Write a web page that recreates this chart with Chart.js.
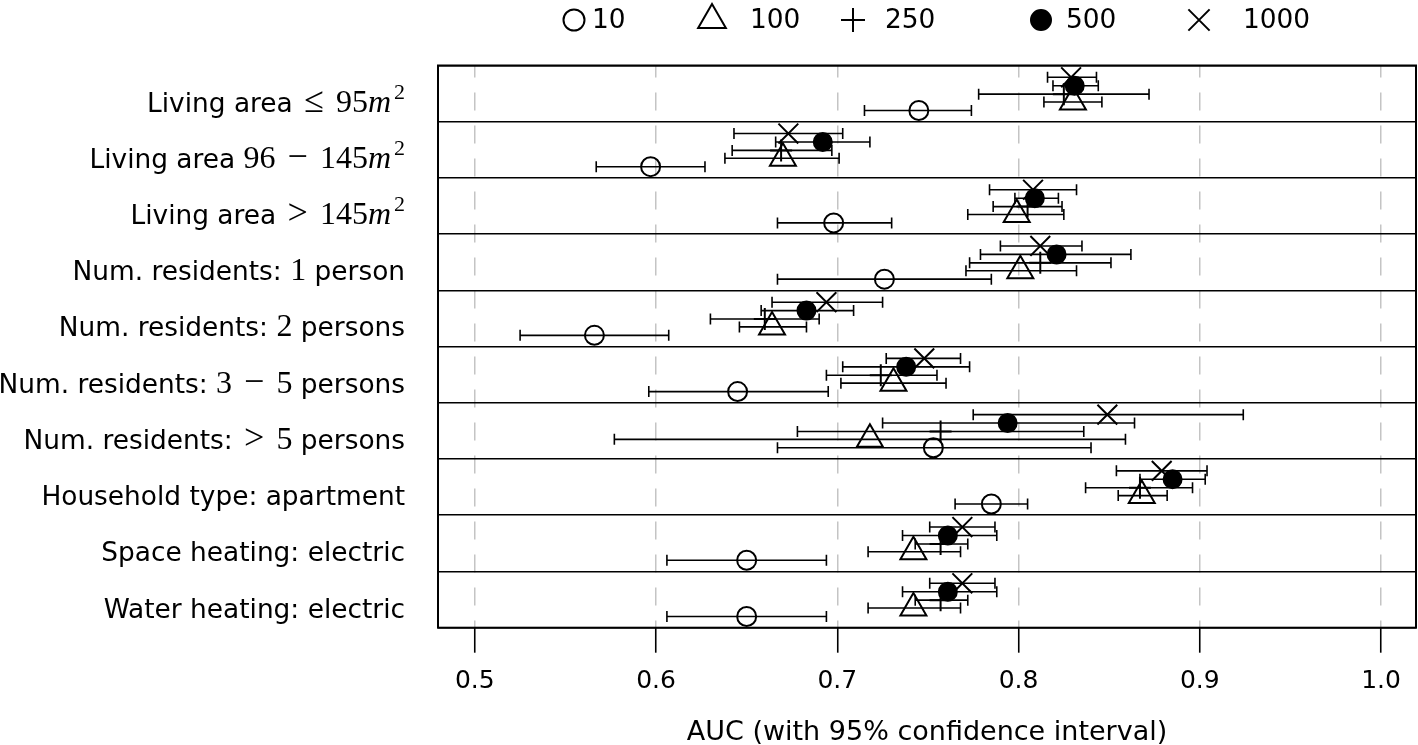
<!DOCTYPE html>
<html>
<head>
<meta charset="utf-8">
<title>AUC by household characteristic</title>
<script src="https://cdn.jsdelivr.net/npm/chart.js@4.4.0/dist/chart.umd.min.js"></script>
<style>
  html, body { margin: 0; padding: 0; background: #fff; }
  #wrap { width: 1418px; height: 745px; }
</style>
</head>
<body>
<div id="wrap"><canvas id="aucChart" width="1418" height="745"></canvas></div>
<script>
// Categories, top to bottom ($...$ parts are set as math)
const categories = [
  'Living area $≤95m^2$',
  'Living area $96−145m^2$',
  'Living area $>145m^2$',
  'Num. residents: $1$ person',
  'Num. residents: $2$ persons',
  'Num. residents: $3−5$ persons',
  'Num. residents: $>5$ persons',
  'Household type: apartment',
  'Space heating: electric',
  'Water heating: electric'
];

const seriesNames = ['10', '100', '250', '500', '1000'];
const xTicks = [0.5, 0.6, 0.7, 0.8, 0.9, 1.0];

// AUC and 95% confidence interval per training size
const auc10 = [0.745, 0.597, 0.698, 0.726, 0.566, 0.645, 0.753, 0.785, 0.650, 0.650];
const lo10  = [0.715, 0.567, 0.667, 0.667, 0.525, 0.596, 0.667, 0.765, 0.606, 0.606];
const hi10  = [0.774, 0.627, 0.730, 0.785, 0.607, 0.695, 0.840, 0.805, 0.694, 0.694];

const auc100 = [0.830, 0.670, 0.799, 0.801, 0.664, 0.731, 0.718, 0.868, 0.742, 0.742];
const lo100  = [0.814, 0.638, 0.772, 0.771, 0.646, 0.702, 0.577, 0.855, 0.717, 0.717];
const hi100  = [0.846, 0.701, 0.825, 0.832, 0.683, 0.760, 0.859, 0.882, 0.768, 0.768];

const auc250 = [0.825, 0.669, 0.805, 0.812, 0.660, 0.724, 0.757, 0.867, 0.757, 0.757];
const lo250  = [0.778, 0.642, 0.786, 0.773, 0.630, 0.694, 0.678, 0.837, 0.743, 0.743];
const hi250  = [0.872, 0.697, 0.824, 0.851, 0.690, 0.755, 0.836, 0.896, 0.772, 0.772];

const auc500 = [0.831, 0.692, 0.809, 0.821, 0.683, 0.738, 0.794, 0.885, 0.761, 0.761];
const lo500  = [0.819, 0.666, 0.798, 0.779, 0.658, 0.703, 0.725, 0.867, 0.736, 0.736];
const hi500  = [0.844, 0.718, 0.822, 0.862, 0.709, 0.773, 0.864, 0.903, 0.788, 0.788];

const auc1000 = [0.829, 0.673, 0.808, 0.812, 0.694, 0.748, 0.849, 0.879, 0.769, 0.769];
const lo1000  = [0.816, 0.643, 0.784, 0.790, 0.664, 0.727, 0.775, 0.854, 0.751, 0.751];
const hi1000  = [0.843, 0.703, 0.832, 0.835, 0.725, 0.768, 0.924, 0.904, 0.787, 0.787];

// Series look: marker, vertical shift inside a row, legend spot
const series = [
  { auc: auc10,   lo: lo10,   hi: hi10,   shift: 0.30,  style: 'circle',   radius: 9.5, legendRadius: 10.5, fill: 'rgba(0,0,0,0)', lx: 574,  tx: 592 },
  { auc: auc100,  lo: lo100,  hi: hi100,  shift: 0.15,  style: 'triangle', radius: 15,  legendRadius: 16,   fill: 'rgba(0,0,0,0)', lx: 712,  tx: 750 },
  { auc: auc250,  lo: lo250,  hi: hi250,  shift: 0.01,  style: 'cross',    radius: 11,  legendRadius: 12,   fill: 'rgba(0,0,0,0)', lx: 853,  tx: 885 },
  { auc: auc500,  lo: lo500,  hi: hi500,  shift: -0.14, style: 'circle',   radius: 9,   legendRadius: 10,   fill: '#000',          lx: 1041, tx: 1066 },
  { auc: auc1000, lo: lo1000, hi: hi1000, shift: -0.29, style: 'crossRot', radius: 14,  legendRadius: 15,   fill: 'rgba(0,0,0,0)', lx: 1199, tx: 1243 }
];

const sansFont = '26.4px "DejaVu Sans"';
const mathSize = 32;

// Error bars with caps
const errorBars = {
  id: 'errorBars',
  afterDatasetsDraw(chart) {
    const { ctx, scales: { x, y } } = chart;
    ctx.save();
    ctx.strokeStyle = '#000';
    ctx.lineWidth = 1.6;
    series.forEach(s => {
      s.lo.forEach((lo, i) => {
        const py = y.getPixelForValue(i + 1 + s.shift);
        const x1 = x.getPixelForValue(lo);
        const x2 = x.getPixelForValue(s.hi[i]);
        ctx.beginPath();
        ctx.moveTo(x1, py); ctx.lineTo(x2, py);
        ctx.moveTo(x1, py - 5.5); ctx.lineTo(x1, py + 5.5);
        ctx.moveTo(x2, py - 5.5); ctx.lineTo(x2, py + 5.5);
        ctx.stroke();
      });
    });
    ctx.restore();
  }
};

// Row labels with math parts in a serif face
function drawLabel(ctx, text, xRight, baseline) {
  const runs = [];
  text.split('$').forEach((part, j) => {
    if (j % 2 === 0) {
      if (part) runs.push({ t: part, font: sansFont, dy: 0, before: 0, after: 0 });
      return;
    }
    for (let c = 0; c < part.length; c++) {
      const ch = part[c];
      if (ch === '^') {
        runs.push({ t: part[++c], font: Math.round(mathSize * 0.7) + 'px "Liberation Serif"', dy: -13, before: 0, after: 0 });
      } else if (/[a-z]/i.test(ch)) {
        runs.push({ t: ch, font: 'italic ' + mathSize + 'px "Liberation Serif"', dy: 0, before: 0, after: 3 });
      } else if ('≤>−'.includes(ch)) {
        // operators get space on both sides, little at the start of the formula
        runs.push({ t: ch, font: (mathSize + 4) + 'px "Liberation Serif"', dy: 0, before: c > 0 ? 12 : 3, after: 12 });
      } else {
        runs.push({ t: ch, font: mathSize + 'px "Liberation Serif"', dy: 0, before: 0, after: 0 });
      }
    }
  });
  let total = 0;
  runs.forEach(r => {
    ctx.font = r.font;
    r.w = ctx.measureText(r.t).width;
    total += r.w + r.before + r.after;
  });
  let cx = xRight - total;
  runs.forEach(r => {
    ctx.font = r.font;
    cx += r.before;
    ctx.fillText(r.t, cx, baseline + r.dy);
    cx += r.w + r.after;
  });
}

const rowLabels = {
  id: 'rowLabels',
  afterDraw(chart) {
    const { ctx, chartArea, scales: { y } } = chart;
    ctx.save();
    ctx.fillStyle = '#000';
    ctx.textAlign = 'left';
    ctx.textBaseline = 'alphabetic';
    categories.forEach((c, i) => {
      drawLabel(ctx, c, chartArea.left - 33, y.getPixelForValue(i + 1.15) + 9.5);
    });
    ctx.restore();
  }
};

// Legend across the top
const topLegend = {
  id: 'topLegend',
  afterDraw(chart) {
    const ctx = chart.ctx;
    const cy = 20;
    ctx.save();
    ctx.strokeStyle = '#000';
    ctx.fillStyle = '#000';
    ctx.font = sansFont;
    ctx.textBaseline = 'middle';
    series.forEach((s, k) => {
      ctx.save();
      ctx.lineWidth = 2;
      ctx.fillStyle = s.fill;
      Chart.helpers.drawPoint(ctx, { pointStyle: s.style, radius: s.legendRadius, rotation: 0, borderWidth: 2 }, s.lx, cy);
      ctx.restore();
      ctx.fillText(seriesNames[k], s.tx, cy + 1);
    });
    ctx.restore();
  }
};

// Plot frame
const frame = {
  id: 'frame',
  afterDraw(chart) {
    const { ctx, chartArea: a } = chart;
    ctx.save();
    ctx.strokeStyle = '#000';
    ctx.lineWidth = 2;
    ctx.strokeRect(a.left, a.top, a.right - a.left, a.bottom - a.top);
    ctx.restore();
  }
};

const datasets = series.map((s, k) => ({
  label: seriesNames[k],
  data: s.auc.map((v, i) => ({ x: v, y: i + 1 + s.shift })),
  pointStyle: s.style,
  pointRadius: s.radius,
  pointBorderWidth: 2,
  pointBorderColor: '#000',
  pointBackgroundColor: s.fill,
  showLine: false
}));

// tick labels must not push the plot edges inward
const noPadding = () => ({ left: 0, top: 0, right: 0, bottom: 0 });

const ctx = document.getElementById('aucChart').getContext('2d');
new Chart(ctx, {
  type: 'scatter',
  data: { datasets },
  options: {
    responsive: false,
    animation: false,
    events: [],
    layout: { autoPadding: false, padding: { top: 65.5, right: 2, left: 0, bottom: 0 } },
    plugins: { legend: { display: false }, tooltip: { enabled: false } },
    scales: {
      x: {
        type: 'linear',
        min: 0.4797,
        max: 1.0193,
        afterBuildTicks: scale => { scale.ticks = xTicks.map(v => ({ value: v })); },
        afterFit: scale => {
          scale.height = 117.3;
          scale.getPadding = noPadding;
        },
        ticks: {
          color: '#000',
          font: { family: 'DejaVu Sans', size: 25 },
          padding: 14,
          maxRotation: 0,
          autoSkip: false,
          callback: v => Number(v).toFixed(1)
        },
        grid: {
          color: '#c4c4c4',
          lineWidth: 1.5,
          tickColor: '#000',
          tickLength: 25,
          tickWidth: 1.6,
          tickBorderDash: []
        },
        border: { display: false, dash: [18, 15], dashOffset: 6 },
        title: {
          display: true,
          text: 'AUC (with 95% confidence interval)',
          color: '#000',
          font: { family: 'DejaVu Sans', size: 27, lineHeight: 0.89 },
          padding: { top: 4, bottom: 0 }
        }
      },
      y: {
        type: 'linear',
        reverse: true,
        min: 0.5,
        max: 10.5,
        afterBuildTicks: scale => {
          scale.ticks = categories.map((c, i) => ({ value: i + 0.5 })).concat([{ value: 10.5 }]);
        },
        afterFit: scale => {
          scale.width = 438;
          scale.getPadding = noPadding;
        },
        ticks: { display: false },
        grid: { color: '#000', lineWidth: 1.6, drawTicks: false },
        border: { display: false }
      }
    }
  },
  plugins: [errorBars, rowLabels, topLegend, frame]
});
</script>
</body>
</html>
